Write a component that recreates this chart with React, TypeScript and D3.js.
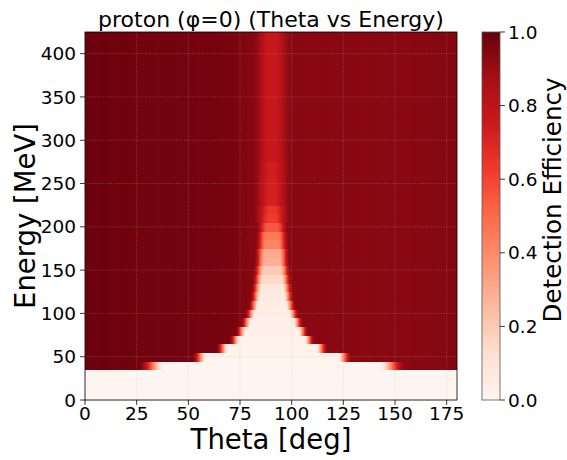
import React from "react";
import * as d3 from "d3";

// ---------- data ----------
const title = "proton (φ=0) (Theta vs Energy)";
const xLabel = "Theta [deg]";
const yLabel = "Energy [MeV]";
const cbLabel = "Detection Efficiency";

const xTicks = [0, 25, 50, 75, 100, 125, 150, 175];
const yTicks = [0, 50, 100, 150, 200, 250, 300, 350, 400];
const cbTicks = [0, 0.2, 0.4, 0.6, 0.8, 1.0];

// energy bin lower edges (MeV); last bin ends at 425
const energyEdges = [
  0, 35, 45, 55, 65, 75, 85, 95, 105, 115, 125, 135, 145, 155, 165, 175, 185, 195,
  205, 215, 225, 235, 245, 255, 265, 275, 285, 295, 305, 315, 325, 335, 345, 355,
  365, 375, 385, 395, 405, 415, 425,
];

// half-width (deg) of the inefficient region around theta≈90 for each energy bin
const rowHalfWidth = [
  100, 58, 35, 24, 18, 15, 12.5, 10.5, 9, 8, 7.5, 7, 6.5, 6, 6, 5.5, 5.5, 5,
  5, 5, 5, 5, 5, 5, 5, 5, 5, 5, 5, 5, 5, 5, 5, 5, 5, 5, 5, 5, 5, 5,
];
// efficiency at the centre (theta≈90) for each energy bin
const rowCore = [
  0, 0, 0.01, 0.02, 0.02, 0.03, 0.03, 0.04, 0.05, 0.06, 0.08, 0.14, 0.2, 0.28, 0.3,
  0.42, 0.45, 0.55, 0.62, 0.64, 0.72, 0.72, 0.72, 0.73, 0.73, 0.76, 0.76, 0.76,
  0.76, 0.76, 0.76, 0.76, 0.76, 0.76, 0.76, 0.76, 0.76, 0.76, 0.76, 0.76,
];
// width (deg) of the edge transition for each energy bin
const rowRamp = [
  1, 13, 7, 6, 5, 5, 5, 5, 5, 5, 5, 5, 5, 5, 5, 5, 5, 5,
  8, 8, 8, 8, 8, 8, 8, 8, 8, 8, 8, 8, 8, 8, 8, 8, 8, 8, 8, 8, 8, 8,
];

// plateau efficiency vs theta (every 5 deg, 0..180)
const plateauTheta = d3.range(0, 181, 5);
const plateauEff = [
  0.99, 0.985, 0.99, 0.98, 0.985, 0.975, 0.98, 0.975, 0.98, 0.975, 0.975, 0.97,
  0.975, 0.97, 0.965, 0.955, 0.94, 0.93, 0.92, 0.92, 0.93, 0.935, 0.93, 0.935,
  0.93, 0.935, 0.935, 0.93, 0.935, 0.93, 0.935, 0.93, 0.935, 0.935, 0.94, 0.94,
  0.95,
];

const redsColors = [
  "#fff5f0", "#fee0d2", "#fcbba1", "#fc9272", "#fb6a4a",
  "#ef3b2c", "#cb181d", "#a50f15", "#67000d",
];

// ---------- layout ----------
const W = 567;
const H = 460;
const M = { left: 85, right: 457, top: 32, bottom: 400 };
const CB = { x0: 482, x1: 500 };
const FONT = "'DejaVu Sans', sans-serif";

export default function App() {
  const x = d3.scaleLinear().domain([0, 180]).range([M.left, M.right]);
  const y = d3.scaleLinear().domain([0, 425]).range([M.bottom, M.top]);
  const cbY = d3.scaleLinear().domain([0, 1]).range([M.bottom, M.top]);
  const color = d3
    .scaleLinear<string>()
    .domain(redsColors.map((_, i) => i / (redsColors.length - 1)))
    .range(redsColors)
    .interpolate(d3.interpolateRgb)
    .clamp(true);
  const plateau = d3.scaleLinear().domain(plateauTheta).range(plateauEff);

  const center = 90.5;
  const thetaSamples = d3.range(0, 180.01, 0.5);
  const eff = (theta: number, r: number) => {
    const p = plateau(theta);
    const hw = rowHalfWidth[r];
    const ramp = rowRamp[r];
    const core = rowCore[r];
    const dd = Math.abs(theta - center);
    const a = hw - ramp / 2;
    if (dd <= a) return core;
    if (dd >= hw + ramp / 2) return p;
    const t = (dd - a) / ramp;
    const s = t * t * (3 - 2 * t);
    return core + (p - core) * s;
  };

  const rows = energyEdges.slice(0, -1).map((e0, r) => ({
    r,
    e0,
    e1: energyEdges[r + 1],
  }));

  return (
    <svg width={W} height={H} style={{ display: "block", position: "absolute", left: 0, top: 0 }}>
      <defs>
        {rows.map(({ r }) => (
          <linearGradient
            key={r}
            id={`row${r}`}
            gradientUnits="userSpaceOnUse"
            x1={x(0)}
            x2={x(180)}
            y1={0}
            y2={0}
          >
            {thetaSamples.map((t) => (
              <stop key={t} offset={t / 180} stopColor={color(eff(t, r))} />
            ))}
          </linearGradient>
        ))}
        <linearGradient id="cbgrad" x1="0" x2="0" y1="1" y2="0">
          {redsColors.map((c, i) => (
            <stop key={i} offset={i / (redsColors.length - 1)} stopColor={c} />
          ))}
        </linearGradient>
      </defs>

      {/* heatmap */}
      <g shapeRendering="crispEdges">
        {rows.map(({ r, e0, e1 }) => (
          <rect
            key={r}
            x={x(0)}
            width={x(180) - x(0)}
            y={y(e1)}
            height={y(e0) - y(e1) + 0.5}
            fill={`url(#row${r})`}
          />
        ))}
      </g>

      {/* grid */}
      <g stroke="#b0b0b0" strokeOpacity={0.45} strokeWidth={0.8} strokeDasharray="1,1.6">
        {xTicks.map((t) => (
          <line key={`gx${t}`} x1={x(t)} x2={x(t)} y1={M.top} y2={M.bottom} />
        ))}
        {yTicks.map((t) => (
          <line key={`gy${t}`} x1={M.left} x2={M.right} y1={y(t)} y2={y(t)} />
        ))}
      </g>

      {/* frame */}
      <rect
        x={M.left}
        y={M.top}
        width={M.right - M.left}
        height={M.bottom - M.top}
        fill="none"
        stroke="#000"
        strokeWidth={0.8}
      />

      {/* axes ticks */}
      <g fontFamily={FONT} fontSize={18.5} fill="#000">
        {xTicks.map((t) => (
          <g key={`xt${t}`}>
            <line x1={x(t)} x2={x(t)} y1={M.bottom} y2={M.bottom + 4.9} stroke="#000" strokeWidth={0.8} />
            <text x={x(t)} y={M.bottom + 20} textAnchor="middle">
              {t}
            </text>
          </g>
        ))}
        {yTicks.map((t) => (
          <g key={`yt${t}`}>
            <line x1={M.left - 4.9} x2={M.left} y1={y(t)} y2={y(t)} stroke="#000" strokeWidth={0.8} />
            <text x={M.left - 9} y={y(t)} dy="0.36em" textAnchor="end">
              {t}
            </text>
          </g>
        ))}
      </g>

      {/* labels */}
      <text
        x={(M.left + M.right) / 2}
        y={449}
        textAnchor="middle"
        fontFamily={FONT}
        fontSize={27.5}
      >
        {xLabel}
      </text>
      <text
        transform={`translate(35,${(M.top + M.bottom) / 2}) rotate(-90)`}
        textAnchor="middle"
        fontFamily={FONT}
        fontSize={27.5}
      >
        {yLabel}
      </text>
      <text
        x={(M.left + M.right) / 2}
        y={27}
        textAnchor="middle"
        fontFamily={FONT}
        fontSize={22}
      >
        {title}
      </text>

      {/* colorbar */}
      <rect
        x={CB.x0}
        y={M.top}
        width={CB.x1 - CB.x0}
        height={M.bottom - M.top}
        fill="url(#cbgrad)"
        stroke="#555"
        strokeWidth={0.8}
      />
      <g fontFamily={FONT} fontSize={18.5}>
        {cbTicks.map((t) => (
          <g key={`cb${t}`}>
            <line x1={CB.x1} x2={CB.x1 + 4.9} y1={cbY(t)} y2={cbY(t)} stroke="#000" strokeWidth={0.8} />
            <text x={CB.x1 + 8} y={cbY(t)} dy="0.36em">
              {t.toFixed(1)}
            </text>
          </g>
        ))}
      </g>
      <text
        transform={`translate(560.5,200) rotate(-90)`}
        textAnchor="middle"
        fontFamily={FONT}
        fontSize={24.5}
      >
        {cbLabel}
      </text>
    </svg>
  );
}
